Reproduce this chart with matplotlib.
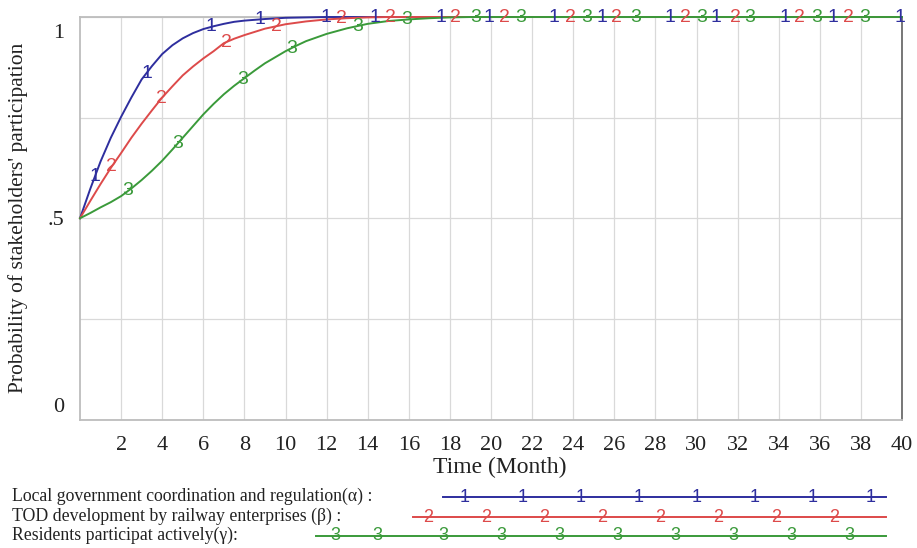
import numpy as np
import matplotlib
matplotlib.use("Agg")
import matplotlib.pyplot as plt
from matplotlib.transforms import ScaledTranslation

# ---------------- data ----------------
time_blue = [0, 0.5, 1, 1.5, 2, 2.5, 3, 3.5, 4, 4.5, 5, 5.5, 6, 6.5, 7, 7.5, 8, 9, 10, 11, 12, 40]
alpha_gov = [0.5, 0.573, 0.641, 0.70, 0.752, 0.80, 0.845, 0.878, 0.908, 0.93, 0.947, 0.96,
             0.97, 0.977, 0.983, 0.988, 0.991, 0.995, 0.998, 0.999, 1.0, 1.0]

time_red = [0, 0.5, 1, 1.5, 2, 2.5, 3, 3.5, 4, 4.5, 5, 5.5, 6, 6.5, 7, 7.5, 8, 9, 10, 11, 12, 13, 14, 15, 40]
beta_rail = [0.5, 0.543, 0.585, 0.625, 0.662, 0.70, 0.735, 0.768, 0.80, 0.828, 0.855, 0.877,
             0.897, 0.915, 0.935, 0.946, 0.955, 0.971, 0.982, 0.989, 0.994, 0.997, 0.999, 1.0, 1.0]

time_green = [0, 0.5, 1, 1.5, 2, 2.5, 3, 3.5, 4, 4.5, 5, 5.5, 6, 6.5, 7, 7.5, 8, 8.5, 9, 9.5,
              10, 10.5, 11, 12, 13, 14, 15, 16, 17, 18, 19, 40]
gamma_res = [0.5, 0.513, 0.527, 0.54, 0.555, 0.574, 0.595, 0.618, 0.643, 0.671, 0.70, 0.729,
             0.758, 0.784, 0.808, 0.829, 0.848, 0.867, 0.885, 0.90, 0.915, 0.928, 0.94,
             0.958, 0.972, 0.983, 0.99, 0.994, 0.997, 0.999, 1.0, 1.0]

# times at which the series number labels sit on the curves
marks_blue = [0.73, 3.24, 6.39, 8.74, 11.98, 14.37, 17.56, 19.9, 23.06, 25.39, 28.72, 30.97, 34.3, 36.65, 39.9]
marks_red = [1.54, 3.97, 7.12, 9.55, 12.7, 15.13, 18.29, 20.63, 23.87, 26.12, 29.45, 31.88, 35.03, 37.38]
marks_green = [2.34, 4.77, 7.93, 10.28, 13.5, 15.92, 19.26, 21.44, 24.66, 27.02, 30.24, 32.61, 35.83, 38.19]

series_names = ["Local government coordination and regulation(\u03b1) :",
                "TOD development by railway enterprises (\u03b2) :",
                "Residents participat actively(\u03b3):"]
series_ids = ["1", "2", "3"]
colors = ["#2e2e9e", "#dd4a4a", "#3a9a3a"]

x_ticks = list(range(2, 41, 2))
y_ticks = [0, 0.5, 1]
y_tick_labels = ["0", ".5", "1"]
x_label = "Time (Month)"
y_label = "Probability of stakeholders' participation"

# ---------------- figure ----------------
W, H = 917, 548
fig = plt.figure(figsize=(W / 100, H / 100), dpi=100)
fig.patch.set_facecolor("white")

serif = "Liberation Serif"
sans = "Liberation Sans"

ax = fig.add_axes([80 / W, (H - 419.5) / H, (902 - 80) / W, (419.5 - 17) / H])
ax.set_xlim(0, 40)
ax.set_ylim(0, 1)
ax.set_xticks(x_ticks)
ax.set_xticklabels([str(t) for t in x_ticks], fontfamily=serif, fontsize=16, color="#222222")
ax.set_yticks(y_ticks)
ax.set_yticklabels(y_tick_labels, fontfamily=serif, fontsize=16, color="#222222")
ax.set_yticks([0.25, 0.75], minor=True)
ax.tick_params(axis="both", which="both", length=0)
ax.tick_params(axis="x", pad=12)
ax.tick_params(axis="y", pad=11)
ylabs = ax.get_yticklabels()
ylabs[0].set_verticalalignment("bottom")
ylabs[-1].set_verticalalignment("top")
ylabs[-1].set_transform(ylabs[-1].get_transform() + ScaledTranslation(0, -5 / 72, fig.dpi_scale_trans))
ylabs[0].set_transform(ylabs[0].get_transform() + ScaledTranslation(0, 2 / 72, fig.dpi_scale_trans))
ax.grid(True, which="both", color="#d9d9d9", linewidth=0.9)
ax.set_axisbelow(True)
for side in ["left", "bottom", "top"]:
    ax.spines[side].set_color("#bdbdbd")
    ax.spines[side].set_linewidth(1.3)
ax.spines["right"].set_color("#606060")
ax.spines["right"].set_linewidth(1.2)

all_t = [time_blue, time_red, time_green]
all_v = [alpha_gov, beta_rail, gamma_res]
all_m = [marks_blue, marks_red, marks_green]
for t, v, m, c, sid in zip(all_t, all_v, all_m, colors, series_ids):
    ax.plot(t, v, color=c, linewidth=1.4, clip_on=False, zorder=3)
    for tm in m:
        ym = np.interp(tm, t, v)
        ax.text(tm, ym, sid, color=c, fontfamily=sans, fontsize=14,
                ha="center", va="center", clip_on=False, zorder=4)

# ---------------- overlay for labels and legend (pixel coords) ----------------
lax = fig.add_axes([0, 0, 1, 1], zorder=5)
lax.set_xlim(0, W)
lax.set_ylim(H, 0)
lax.axis("off")
lax.patch.set_alpha(0)

lax.text(500, 467, x_label, fontfamily=serif, fontsize=17, ha="center", va="center", color="#222222")
lax.text(18, 218, y_label, fontfamily=serif, fontsize=15.5, ha="center", va="center",
         rotation=90, color="#222222")

row_y = [497, 517, 536]
line_start = [443, 413, 316]
line_end = 886
for i in range(3):
    lax.text(12, row_y[i] - 1, series_names[i], fontfamily=serif, fontsize=12.8,
             ha="left", va="center", color="#222222")
    lax.plot([line_start[i], line_end], [row_y[i], row_y[i]], color=colors[i], linewidth=1.4)
    if i == 2:
        xs = [335, 377] + [443 + 58 * k for k in range(8)]
    elif i == 1:
        xs = [428 + 58 * k for k in range(8)]
    else:
        xs = [465 + 58 * k for k in range(8)]
    for xm in xs:
        lax.text(xm, row_y[i], series_ids[i], color=colors[i], fontfamily=sans, fontsize=13,
                 ha="center", va="center")

fig.savefig("out.png", dpi=100, facecolor="white")
